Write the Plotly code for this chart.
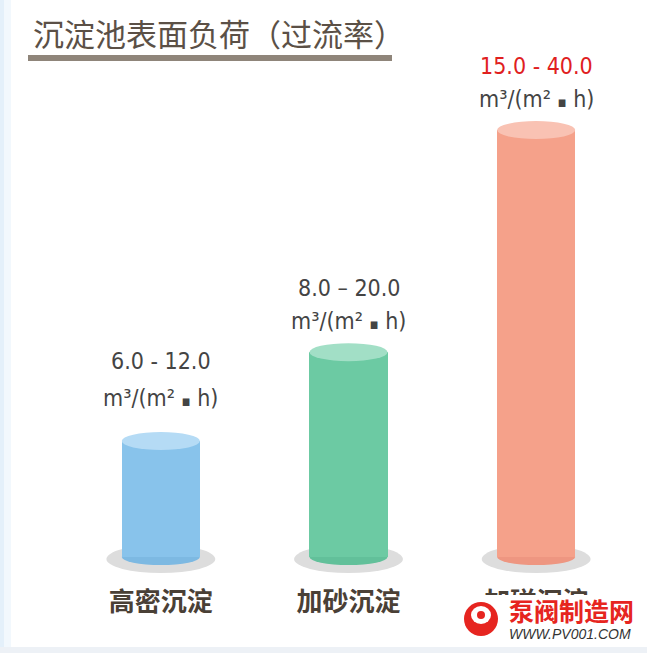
import plotly.graph_objects as go

# ---------------- data ----------------
categories = ["高密沉淀", "加砂沉淀", "加磁沉淀"]
low_values = [6.0, 8.0, 15.0]
high_values = [12.0, 20.0, 40.0]
range_labels = ["6.0 - 12.0", "8.0 – 20.0", "15.0 - 40.0"]
unit_label = "m³/(m² <span style='font-size:15px'>▪</span> h)"
title_text = "沉淀池表面负荷（过流率）"
watermark_cn = "泵阀制造网"
watermark_en = "WWW.PV001.COM"

# ---------------- style ----------------
body_colors = ["#88c3eb", "#6ccaa3", "#f5a18a"]
top_colors = ["#b5dbf5", "#a2dfc6", "#f9c2b3"]
bottom_colors = ["#7db9e2", "#62c09a", "#ee9681"]
range_label_colors = ["#444444", "#444444", "#e0201e"]
value_extra = [16, 0, 0]
unit_extra = [12, 0, 0]

W, H = 647, 653
L, R, T, B = 67, 17, 0, 96
Y0, Y1 = 1.56, 51.71
BAR_W = 0.416
NUM_FONT = "Liberation Sans Narrow, DejaVu Sans Condensed, Arial Narrow, sans-serif"
CJK_FONT = "Noto Sans CJK SC, sans-serif"


def px(x):
    return (x - L) / (W - L - R)


def py(y):
    return (H - B - y) / (H - T - B)


fig = go.Figure()
fig.add_trace(go.Bar(
    x=categories, y=high_values, width=BAR_W,
    marker=dict(color=body_colors, line=dict(width=0)),
    hoverinfo="skip", showlegend=False,
))

shapes = []
annotations = []

# background strips
shapes.append(dict(type="rect", xref="paper", yref="paper", x0=px(0), x1=px(4),
                   y0=py(H), y1=py(0), fillcolor="#e4f0fa", line=dict(width=0), layer="below"))
shapes.append(dict(type="rect", xref="paper", yref="paper", x0=px(4), x1=px(11),
                   y0=py(H), y1=py(0), fillcolor="#f2f8fd", line=dict(width=0), layer="below"))
shapes.append(dict(type="rect", xref="paper", yref="paper", x0=px(0), x1=px(W),
                   y0=py(H), y1=py(647), fillcolor="#edf1f6", line=dict(width=0), layer="below"))

for i, cat in enumerate(categories):
    # floor shadow
    shapes.append(dict(type="circle", xref="x", x0=i - 0.29, x1=i + 0.29,
                       yref="paper", ysizemode="pixel", yanchor=0, y0=-16, y1=12,
                       fillcolor="#dddddd", line=dict(width=0), layer="below"))
    # cylinder bottom
    shapes.append(dict(type="circle", xref="x", x0=i - BAR_W / 2, x1=i + BAR_W / 2,
                       yref="paper", ysizemode="pixel", yanchor=0, y0=-8, y1=8,
                       fillcolor=bottom_colors[i], line=dict(width=0), layer="below"))
    # cylinder top
    shapes.append(dict(type="circle", xref="x", x0=i - BAR_W / 2, x1=i + BAR_W / 2,
                       yref="y", ysizemode="pixel", yanchor=high_values[i], y0=-9, y1=9,
                       fillcolor=top_colors[i], line=dict(width=0), layer="above"))
    annotations.append(dict(x=i, y=high_values[i], xref="x", yref="y",
                            text=range_labels[i], showarrow=False,
                            yshift=64 + value_extra[i],
                            font=dict(family=NUM_FONT, size=23, color=range_label_colors[i])))
    annotations.append(dict(x=i, y=high_values[i], xref="x", yref="y",
                            text=unit_label, showarrow=False,
                            yshift=31 + unit_extra[i],
                            font=dict(family=NUM_FONT, size=23, color="#444444")))

# title + underline
annotations.append(dict(xref="paper", yref="paper", x=px(31), y=py(32.5),
                        xanchor="left", yanchor="middle", text=title_text, showarrow=False,
                        font=dict(family=CJK_FONT, size=31, color="#5b5046")))
shapes.append(dict(type="rect", xref="paper", yref="paper", x0=px(28), x1=px(392),
                   y0=py(61), y1=py(55), fillcolor="#8f857a", line=dict(width=0)))

# watermark
shapes.append(dict(type="rect", xref="paper", yref="paper", x0=px(458), x1=px(645),
                   y0=py(646), y1=py(595), fillcolor="white", line=dict(width=0), layer="above"))
shapes.append(dict(type="circle", xref="paper", yref="paper", x0=px(464), x1=px(498),
                   y0=py(636), y1=py(602), fillcolor="#e62520", line=dict(width=0), layer="above"))
shapes.append(dict(type="circle", xref="paper", yref="paper", x0=px(471), x1=px(491),
                   y0=py(624), y1=py(606), fillcolor="white", line=dict(width=0), layer="above"))
shapes.append(dict(type="circle", xref="paper", yref="paper", x0=px(477), x1=px(485),
                   y0=py(619), y1=py(611), fillcolor="#e62520", line=dict(width=0), layer="above"))
annotations.append(dict(xref="paper", yref="paper", x=px(571), y=py(610), text=watermark_cn,
                        showarrow=False, xanchor="center", yanchor="middle",
                        font=dict(family=CJK_FONT, size=25, color="#e62520", weight="bold")))
annotations.append(dict(xref="paper", yref="paper", x=px(570), y=py(634),
                        text="<i>" + watermark_en + "</i>",
                        showarrow=False, xanchor="center", yanchor="middle",
                        font=dict(family="Liberation Sans, Arial, sans-serif", size=14, color="#333333")))

fig.update_layout(
    width=W, height=H,
    margin=dict(l=L, r=R, t=T, b=B, pad=0),
    paper_bgcolor="white", plot_bgcolor="rgba(0,0,0,0)",
    shapes=shapes, annotations=annotations,
    bargap=0,
    showlegend=False,
    xaxis=dict(type="category", range=[-0.5, 2.5], showgrid=False, zeroline=False,
               showline=False, ticks="", ticklabelstandoff=27,
               tickfont=dict(family=CJK_FONT, size=26, color="#4a4036", weight="bold")),
    yaxis=dict(range=[Y0, Y1], visible=False, showgrid=False, zeroline=False),
)

fig.write_html("out.html", config={"displayModeBar": False},
               post_script="document.body.style.margin='0';document.body.style.overflow='hidden';")
